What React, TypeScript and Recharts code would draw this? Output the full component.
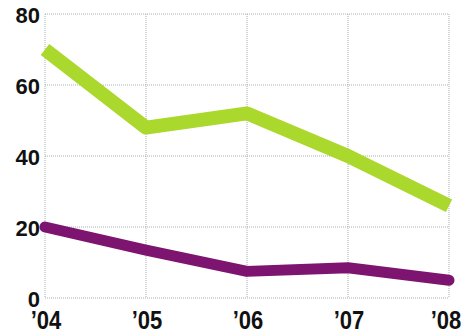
import { CartesianGrid, Line, LineChart, XAxis, YAxis } from "recharts";

const years = ["’04", "’05", "’06", "’07", "’08"];
const greenValues = [70, 48, 52, 40, 26];
const purpleValues = [20, 13.5, 7.5, 8.5, 5];
const yTicks = [0, 20, 40, 60, 80];

const data = years.map((year, i) => ({
	year,
	green: greenValues[i],
	purple: purpleValues[i],
}));

const FONT = "'Liberation Sans', Arial, sans-serif";

const YTick = ({ x, y, payload }: any) => (
	<text
		x={x - 5}
		y={y + 9}
		textAnchor="end"
		fill="#111"
		fontFamily={FONT}
		fontWeight="bold"
		fontSize={22}
	>
		{payload.value}
	</text>
);

// labels are condensed in the original, squeeze them a bit and keep the last one on the page
const XTick = ({ x, y, payload }: any) => {
	const cx = Math.min(x + 1, 446);
	return (
		<g transform={`translate(${cx},${y + 31}) scale(0.88,1)`}>
			<text
				x={0}
				y={0}
				textAnchor="middle"
				fill="#111"
				fontFamily={FONT}
				fontWeight="bold"
				fontSize={25}
			>
				{payload.value}
			</text>
		</g>
	);
};

const App = () => {
	return (
		<div style={{ position: "absolute", left: 0, top: 0, background: "#fff" }}>
			<LineChart
				width={462}
				height={335}
				data={data}
				margin={{ top: 14, right: 13, left: 0, bottom: 0 }}
			>
				<CartesianGrid stroke="#a9b0b0" strokeDasharray="1 1" />
				<XAxis
					dataKey="year"
					height={37}
					axisLine={false}
					tickLine={false}
					tickSize={0}
					tickMargin={0}
					interval={0}
					tick={<XTick />}
				/>
				<YAxis
					width={45}
					domain={[0, 80]}
					ticks={yTicks}
					axisLine={false}
					tickLine={false}
					tickSize={0}
					tickMargin={0}
					tick={<YTick />}
				/>
				<Line
					dataKey="green"
					stroke="#aad82c"
					strokeWidth={14}
					strokeLinejoin="round"
					dot={false}
					isAnimationActive={false}
				/>
				<Line
					dataKey="purple"
					stroke="#7d1470"
					strokeWidth={11}
					strokeLinejoin="round"
					strokeLinecap="round"
					dot={false}
					isAnimationActive={false}
				/>
			</LineChart>
		</div>
	);
};

export default App;
